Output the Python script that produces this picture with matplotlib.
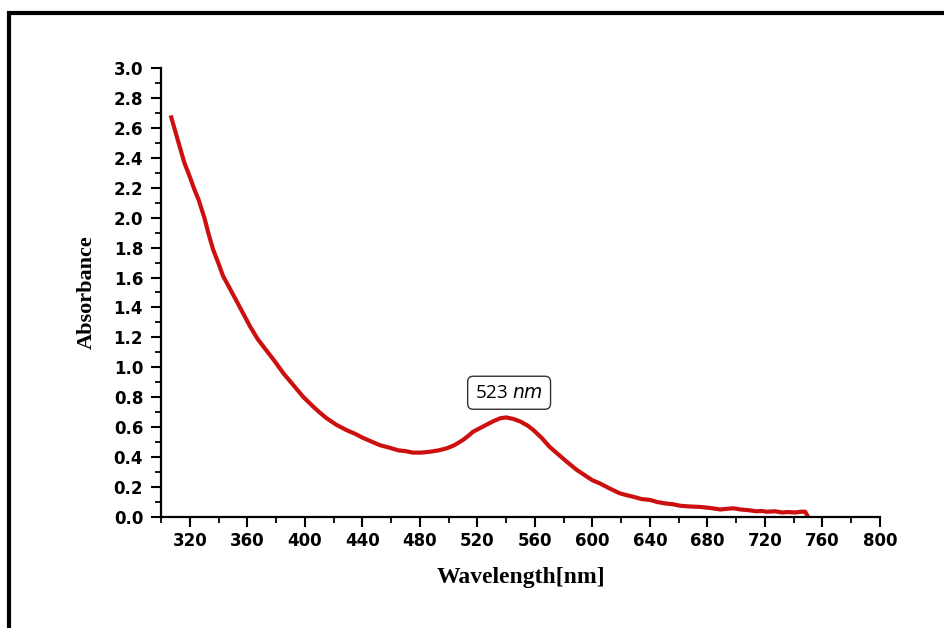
import matplotlib.pyplot as plt
from matplotlib.patches import Rectangle
from matplotlib.ticker import MultipleLocator

# UV-Vis absorbance spectrum
wavelength = [307, 310, 313, 316, 320, 323, 326, 330, 333, 336, 340, 343, 347, 352,
              357, 362, 367, 373, 379, 385, 392, 399, 406, 410, 415, 422, 429, 435,
              440, 446, 452, 458, 465, 470, 475, 481, 487, 493, 499, 504, 510, 514,
              517, 521, 526, 531, 536, 540, 545, 550, 555, 559, 565, 570, 576, 582,
              589, 596, 600, 605, 612, 619, 624, 628, 634, 640, 645, 651, 656, 661,
              668, 675, 682, 689, 694, 698, 703, 709, 714, 718, 721, 727, 732, 736,
              741, 745, 748, 750]
absorbance = [2.67, 2.57, 2.47, 2.37, 2.27, 2.19, 2.12, 2.0, 1.89, 1.79, 1.69, 1.61,
              1.54, 1.45, 1.36, 1.27, 1.19, 1.115, 1.04, 0.96, 0.88, 0.80, 0.735,
              0.70, 0.66, 0.615, 0.58, 0.555, 0.53, 0.505, 0.48, 0.465, 0.445, 0.44,
              0.43, 0.43, 0.436, 0.445, 0.46, 0.48, 0.515, 0.545, 0.57, 0.59, 0.615,
              0.64, 0.66, 0.665, 0.655, 0.637, 0.61, 0.58, 0.525, 0.47, 0.42, 0.37,
              0.315, 0.27, 0.245, 0.225, 0.19, 0.158, 0.145, 0.136, 0.12, 0.114,
              0.10, 0.09, 0.085, 0.075, 0.07, 0.067, 0.06, 0.05, 0.055, 0.058, 0.05,
              0.045, 0.038, 0.04, 0.035, 0.038, 0.03, 0.033, 0.03, 0.035, 0.035, 0.0]

peak_label = "523"
label_x = 542
label_y = 0.83

fig = plt.figure(figsize=(9.45, 6.28), dpi=100)
ax = fig.add_axes([0.1706, 0.1768, 0.7606, 0.7149])

ax.plot(wavelength, absorbance, color="#cc1010", lw=3.0, solid_joinstyle="round")

ax.set_xlim(300, 800)
ax.set_ylim(0, 3.0)
ax.xaxis.set_minor_locator(MultipleLocator(20))
ax.yaxis.set_major_locator(MultipleLocator(0.2))
ax.yaxis.set_minor_locator(MultipleLocator(0.1))
ax.set_xticks(range(320, 801, 40))
ax.yaxis.set_major_formatter(plt.FuncFormatter(lambda v, p: f"{v:.1f}"))

for s in ["top", "right"]:
    ax.spines[s].set_visible(False)
for s in ["left", "bottom"]:
    ax.spines[s].set_linewidth(1.6)

ax.tick_params(axis="both", which="major", length=7, width=1.5, direction="out")
ax.tick_params(axis="both", which="minor", length=4, width=1.3, direction="out")
ax.tick_params(axis="y", which="major", pad=6)
ax.tick_params(axis="x", which="major", pad=4)
for lab in ax.get_xticklabels() + ax.get_yticklabels():
    lab.set_fontfamily("DejaVu Sans")
    lab.set_fontweight("bold")
    lab.set_fontsize(12)

ax.set_xlabel("Wavelength[nm]", family="Liberation Serif", fontweight="bold",
              fontsize=17, labelpad=12)
ax.set_ylabel("Absorbance", family="Liberation Serif", fontweight="bold",
              fontsize=16, labelpad=12)

ax.text(label_x, label_y, peak_label + " $\\it{nm}$", ha="center", va="center",
        fontsize=13.5, family="Open Sans",
        bbox=dict(boxstyle="round,pad=0.4,rounding_size=0.3", fc="white",
                  ec="#333333", lw=1))

# black frame around the figure
fig.patches.append(Rectangle((9 / 945, -0.05), 1.0, 1 - 13 / 628 + 0.05,
                             transform=fig.transFigure, fill=False,
                             ec="black", lw=3, zorder=10))

fig.savefig("out.png", dpi=100)
